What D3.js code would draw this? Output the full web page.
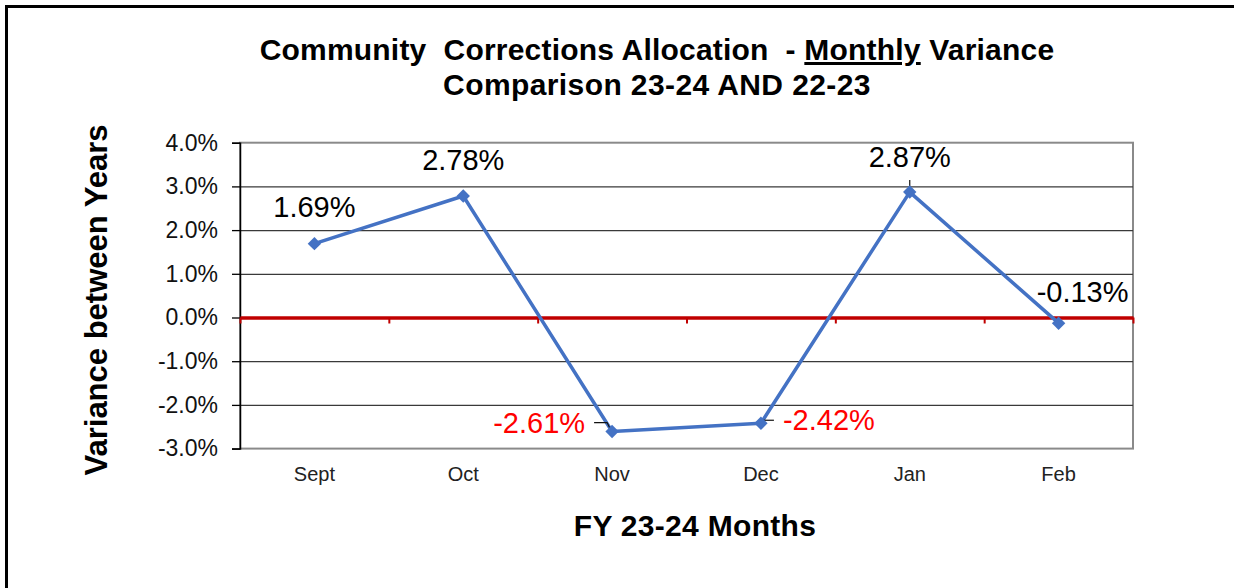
<!DOCTYPE html>
<html>
<head>
  <meta charset="utf-8">
  <title>Community Corrections Allocation - Monthly Variance</title>
  <script src="https://d3js.org/d3.v7.min.js"></script>
  <style>
    html, body { margin: 0; background: #fff; overflow: hidden; }
    svg { display: block; font-family: "Liberation Sans", Arial, sans-serif; }
    .grid line { stroke: #3a3a3a; stroke-width: 1.3; }
    .grid path { display: none; }
  </style>
</head>
<body>
<div id="chart"></div>
<script>
// data
var months = ["Sept", "Oct", "Nov", "Dec", "Jan", "Feb"];
var variance = [1.69, 2.78, -2.61, -2.42, 2.87, -0.13];
var yTicks = [-3, -2, -1, 0, 1, 2, 3, 4];
var gridTicks = [-2, -1, 1, 2, 3];

var W = 1234, H = 588;
var plot = {left: 240, right: 1133, top: 142.7, bottom: 448.6};

// where each data label sits relative to its point
var labelPlace = [
  {dx: 0, dy: -27, anchor: "middle"},
  {dx: 0, dy: -26, anchor: "middle"},
  {dx: -27, dy: 1.5, anchor: "end"},
  {dx: 22, dy: 7, anchor: "start"},
  {dx: 0, dy: -25, anchor: "middle"},
  {dx: 24, dy: -21, anchor: "middle"}
];

var svg = d3.select("#chart").append("svg")
    .attr("width", W)
    .attr("height", H);

svg.append("rect").attr("width", W).attr("height", H).attr("fill", "#fff");

// outer frame (only top and left show)
svg.append("path")
    .attr("d", "M6.5," + (H + 5) + "V6.5H" + (W + 5))
    .attr("fill", "none")
    .attr("stroke", "#000")
    .attr("stroke-width", 3);

var x = d3.scaleBand().domain(months).range([plot.left, plot.right]).padding(0);
var xEdge = d3.scaleLinear().domain([0, months.length]).range([plot.left, plot.right]);
var y = d3.scaleLinear().domain([-0.03, 0.04]).range([plot.bottom, plot.top]);

// title
var title = svg.append("text")
    .attr("x", 657)
    .attr("y", 60)
    .attr("text-anchor", "middle")
    .attr("font-weight", "bold")
    .attr("font-size", 30)
    .attr("letter-spacing", 0.2)
    .attr("fill", "#000")
    .attr("xml:space", "preserve");
title.append("tspan").text("Community  Corrections Allocation  - ");
title.append("tspan").style("text-decoration", "underline").text("Monthly");
title.append("tspan").text(" Variance");

svg.append("text")
    .attr("x", 657)
    .attr("y", 95)
    .attr("text-anchor", "middle")
    .attr("font-weight", "bold")
    .attr("font-size", 30)
    .attr("letter-spacing", 0.4)
    .text("Comparison 23-24 AND 22-23");

// plot border
svg.append("rect")
    .attr("x", plot.left)
    .attr("y", plot.top)
    .attr("width", plot.right - plot.left)
    .attr("height", plot.bottom - plot.top)
    .attr("fill", "none")
    .attr("stroke", "#8a8a8a")
    .attr("stroke-width", 2);

// gridlines
svg.append("g")
    .attr("class", "grid")
    .attr("transform", "translate(" + plot.left + ",0)")
    .call(d3.axisLeft(y).tickValues(gridTicks.map(function(d) { return d / 100; }))
        .tickSize(-(plot.right - plot.left)).tickFormat(""));

// y axis
var yAxis = svg.append("g")
    .attr("transform", "translate(" + plot.left + ",0)")
    .call(d3.axisLeft(y)
        .tickValues(yTicks.map(function(d) { return d / 100; }))
        .tickSize(8)
        .tickPadding(14)
        .tickFormat(function(d) { return (d * 100).toFixed(1) + "%"; }));
yAxis.select(".domain").attr("stroke", "#000").attr("stroke-width", 1.5);
yAxis.selectAll(".tick line").attr("stroke", "#000").attr("stroke-width", 1.3);
yAxis.selectAll("text")
    .attr("font-size", 23)
    .attr("font-family", "Liberation Sans, Arial, sans-serif")
    .attr("fill", "#111");

// zero line with category ticks
var zeroAxis = svg.append("g")
    .attr("transform", "translate(0," + y(0) + ")")
    .call(d3.axisBottom(xEdge).ticks(months.length).tickSize(6).tickSizeOuter(0).tickFormat(""));
zeroAxis.select(".domain").attr("stroke", "#c00000").attr("stroke-width", 3.5);
zeroAxis.selectAll(".tick line").attr("stroke", "#c00000").attr("stroke-width", 2);

// month labels
var xAxis = svg.append("g")
    .attr("transform", "translate(0," + plot.bottom + ")")
    .call(d3.axisBottom(x).tickSize(0).tickPadding(18));
xAxis.select(".domain").remove();
xAxis.selectAll("text")
    .attr("font-size", 20)
    .attr("font-family", "Liberation Sans, Arial, sans-serif")
    .attr("fill", "#222");

// axis titles
svg.append("text")
    .attr("transform", "translate(107," + 300 + ") rotate(-90)")
    .attr("text-anchor", "middle")
    .attr("font-weight", "bold")
    .attr("font-size", 31)
    .text("Variance between Years");

svg.append("text")
    .attr("x", 695)
    .attr("y", 536)
    .attr("text-anchor", "middle")
    .attr("font-weight", "bold")
    .attr("font-size", 30)
    .attr("letter-spacing", 0.3)
    .text("FY 23-24 Months");

// line
var pts = months.map(function(m, i) {
  return {m: m, v: variance[i], px: x(m) + x.bandwidth() / 2, py: y(variance[i] / 100)};
});

svg.append("path")
    .datum(pts)
    .attr("fill", "none")
    .attr("stroke", "#4472c4")
    .attr("stroke-width", 3.5)
    .attr("stroke-linejoin", "round")
    .attr("d", d3.line().x(function(d) { return d.px; }).y(function(d) { return d.py; }));

// leader lines
var leaders = svg.append("g").attr("fill", "none").attr("stroke", "#111").attr("stroke-width", 1.2);
leaders.append("path").attr("d", "M" + (pts[2].px - 18) + "," + (pts[2].py - 9) + "h13l4,8");
leaders.append("path").attr("d", "M" + (pts[3].px + 1) + "," + (pts[3].py - 3) + "h12");
leaders.append("path").attr("d", "M" + pts[4].px + "," + (pts[4].py - 12) + "v11");

// diamond markers
svg.append("g")
  .selectAll("path")
  .data(pts)
  .enter()
  .append("path")
    .attr("transform", function(d) { return "translate(" + d.px + "," + d.py + ") rotate(45)"; })
    .attr("d", d3.symbol().type(d3.symbolSquare).size(90))
    .attr("fill", "#4472c4");

// data labels
svg.append("g")
  .selectAll("text")
  .data(pts)
  .enter()
  .append("text")
    .attr("x", function(d, i) { return d.px + labelPlace[i].dx; })
    .attr("y", function(d, i) { return d.py + labelPlace[i].dy; })
    .attr("text-anchor", function(d, i) { return labelPlace[i].anchor; })
    .attr("font-size", 29)
    .attr("fill", function(d) { return d.v < -1 ? "#ff0000" : "#000"; })
    .text(function(d) { return d.v.toFixed(2) + "%"; });
</script>
</body>
</html>
